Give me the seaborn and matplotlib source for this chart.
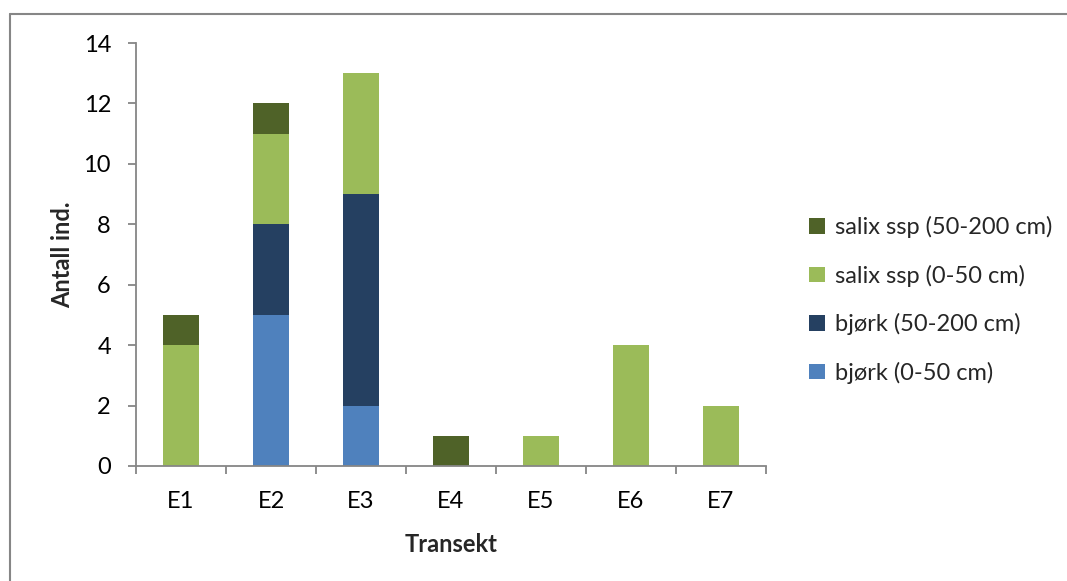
import matplotlib
matplotlib.use("Agg")
import matplotlib.pyplot as plt
from matplotlib.patches import Patch
from matplotlib.lines import Line2D
import numpy as np
import pandas as pd
import seaborn as sns

# Counts per transect, stacked bottom to top in this order
transects = ["E1", "E2", "E3", "E4", "E5", "E6", "E7"]
bjork_0_50 = [0, 5, 2, 0, 0, 0, 0]
bjork_50_200 = [0, 3, 7, 0, 0, 0, 0]
salix_0_50 = [4, 3, 4, 0, 1, 4, 2]
salix_50_200 = [1, 1, 0, 1, 0, 0, 0]

series_names = ["bjørk (0-50 cm)", "bjørk (50-200 cm)",
                "salix ssp (0-50 cm)", "salix ssp (50-200 cm)"]
series_values = [bjork_0_50, bjork_50_200, salix_0_50, salix_50_200]
colors = ["#4F81BD", "#254061", "#9BBB59", "#4F6228"]

sns.set_theme(style="white")
plt.rcParams["font.family"] = ["Lato", "DejaVu Sans"]

FS = 17
W, H = 1067, 581
fig = plt.figure(figsize=(W / 100, H / 100), dpi=100)
ax = fig.add_axes([136 / W, (H - 466) / H, 630 / W, (466 - 43) / H])

# cumulative heights, drawn from the top layer down so each layer covers the next
df = pd.DataFrame({name: vals for name, vals in zip(series_names, series_values)},
                  index=transects)
cum = df.cumsum(axis=1)
for name, col in reversed(list(zip(series_names, colors))):
    d = pd.DataFrame({"Transekt": transects, "val": cum[name].values})
    sns.barplot(data=d, x="Transekt", y="val", color=col, width=0.4,
                saturation=1, ax=ax, linewidth=0, order=transects)

ax.set_xlim(-0.5, len(transects) - 0.5)
ax.set_ylim(0, 14)
ax.set_yticks(np.arange(0, 15, 2))
ax.set_yticklabels([str(v) for v in range(0, 15, 2)], fontsize=FS)
ax.set_xticklabels(transects, fontsize=FS)

spine_c = "#868686"
for s in ["top", "right"]:
    ax.spines[s].set_visible(False)
for s in ["left", "bottom"]:
    ax.spines[s].set_color(spine_c)
    ax.spines[s].set_linewidth(1.3)

ax.tick_params(axis="y", which="major", left=True, length=6, width=1.3,
               color=spine_c, pad=12, labelcolor="black")
ax.tick_params(axis="x", which="major", bottom=False, pad=12, labelcolor="black")
ax.set_xticks(np.arange(-0.5, len(transects) + 0.5, 1), minor=True)
ax.tick_params(axis="x", which="minor", bottom=True, length=6, width=1.3,
               color=spine_c)

ax.set_xlabel("Transekt", fontsize=FS, fontweight="bold", labelpad=15)
ax.set_ylabel("Antall ind.", fontsize=FS, fontweight="bold", labelpad=7)

handles = [Patch(facecolor=c, edgecolor="none") for c in colors]
leg = fig.legend(handles[::-1], series_names[::-1], loc="center left",
                 bbox_to_anchor=(788 / W, 1 - 300 / H), frameon=False,
                 fontsize=FS, handlelength=0.65, handleheight=0.65,
                 handletextpad=0.45, labelspacing=1.12)

# chart-area border (top and left edges)
fig.add_artist(Line2D([10 / W, 1], [1 - 13.5 / H, 1 - 13.5 / H],
                      transform=fig.transFigure, color=spine_c, lw=1.5))
fig.add_artist(Line2D([10 / W, 10 / W], [0, 1 - 13.5 / H],
                      transform=fig.transFigure, color=spine_c, lw=1.5))

fig.savefig("out.png", dpi=100, facecolor="white")
